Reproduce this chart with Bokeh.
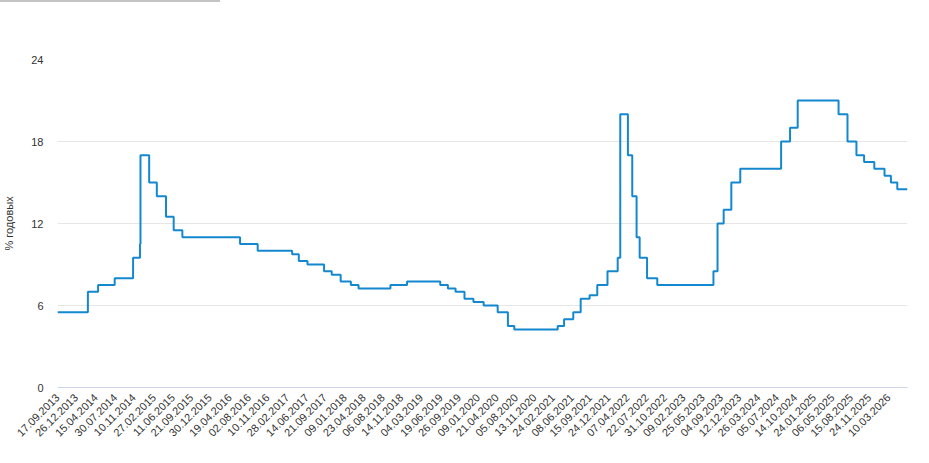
import numpy as np
from bokeh.plotting import figure
from bokeh.models import FixedTicker, Range1d, Div
from bokeh.layouts import column
from bokeh.embed import file_html
from bokeh.resources import INLINE

# Key rate change dates (effective) and values, % per year
change_dates = [
    "2013-09-17", "2014-03-03", "2014-04-28", "2014-07-28", "2014-11-05", "2014-12-12",
    "2014-12-16", "2015-02-02", "2015-03-16", "2015-05-05", "2015-06-16", "2015-08-03",
    "2016-06-14", "2016-09-19", "2017-03-27", "2017-05-02", "2017-06-19", "2017-09-18",
    "2017-10-30", "2017-12-18", "2018-02-12", "2018-03-26", "2018-09-17", "2018-12-17",
    "2019-06-17", "2019-07-29", "2019-09-09", "2019-10-28", "2019-12-16", "2020-02-10",
    "2020-04-27", "2020-06-22", "2020-07-27", "2021-03-22", "2021-04-26", "2021-06-15",
    "2021-07-26", "2021-09-13", "2021-10-25", "2021-12-20", "2022-02-14", "2022-02-28",
    "2022-04-11", "2022-05-04", "2022-05-27", "2022-06-14", "2022-07-25", "2022-09-19",
    "2023-07-24", "2023-08-15", "2023-09-18", "2023-10-30", "2023-12-18", "2024-07-29",
    "2024-09-16", "2024-10-28", "2025-06-09", "2025-07-28", "2025-09-15", "2025-10-27",
    "2025-12-22", "2026-02-16", "2026-03-23", "2026-04-27", "2026-06-22",
]
rates = [
    5.5, 7.0, 7.5, 8.0, 9.5, 10.5,
    17.0, 15.0, 14.0, 12.5, 11.5, 11.0,
    10.5, 10.0, 9.75, 9.25, 9.0, 8.5,
    8.25, 7.75, 7.5, 7.25, 7.5, 7.75,
    7.5, 7.25, 7.0, 6.5, 6.25, 6.0,
    5.5, 4.5, 4.25, 4.5, 5.0, 5.5,
    6.5, 6.75, 7.5, 8.5, 9.5, 20.0,
    17.0, 14.0, 11.0, 9.5, 8.0, 7.5,
    8.5, 12.0, 13.0, 15.0, 16.0, 18.0,
    19.0, 21.0, 20.0, 18.0, 17.0, 16.5,
    16.0, 15.5, 15.0, 14.5, 14.5,
]

tick_labels = [
    "17.09.2013", "26.12.2013", "15.04.2014", "30.07.2014", "10.11.2014", "27.02.2015",
    "11.06.2015", "21.09.2015", "30.12.2015", "19.04.2016", "02.08.2016", "10.11.2016",
    "28.02.2017", "14.06.2017", "21.09.2017", "09.01.2018", "23.04.2018", "06.08.2018",
    "14.11.2018", "04.03.2019", "19.06.2019", "26.09.2019", "09.01.2020", "21.04.2020",
    "05.08.2020", "13.11.2020", "24.02.2021", "08.06.2021", "15.09.2021", "24.12.2021",
    "07.04.2022", "22.07.2022", "31.10.2022", "09.02.2023", "25.05.2023", "04.09.2023",
    "12.12.2023", "26.03.2024", "05.07.2024", "14.10.2024", "24.01.2025", "06.05.2025",
    "15.08.2025", "24.11.2025", "10.03.2026",
]
y_ticks = [0, 6, 12, 18, 24]

start = np.datetime64(change_dates[0])

def bidx(d):
    return int(np.busday_count(start, np.datetime64(d)))

xs = [bidx(d) for d in change_dates]
tick_iso = ["%s-%s-%s" % (t[6:], t[3:5], t[0:2]) for t in tick_labels]
tick_pos = [bidx(d) for d in tick_iso]

p = figure(width=929, height=461, output_backend="svg", toolbar_location=None,
           x_range=Range1d(0, xs[-1]), y_range=Range1d(0, 24),
           min_border_left=57, min_border_right=22, min_border_top=57,
           min_border_bottom=76)
p.outline_line_color = None
p.background_fill_color = "white"
p.border_fill_color = "white"

p.step(xs, rates, mode="after", line_color="#1388cf", line_width=2)

# Y axis
p.yaxis.ticker = FixedTicker(ticks=y_ticks)
p.yaxis.axis_line_color = None
p.yaxis.major_tick_line_color = None
p.yaxis.minor_tick_line_color = None
p.yaxis.major_tick_in = 0
p.yaxis.major_tick_out = 0
p.yaxis.minor_tick_in = 0
p.yaxis.minor_tick_out = 0
p.yaxis.major_label_standoff = 14
p.yaxis.major_label_text_font = "Liberation Sans"
p.yaxis.major_label_text_font_size = "11px"
p.yaxis.major_label_text_color = "#333333"
p.yaxis.axis_label = "% годовых"
p.yaxis.axis_label_text_font = "Liberation Sans"
p.yaxis.axis_label_text_font_size = "11px"
p.yaxis.axis_label_text_font_style = "normal"
p.yaxis.axis_label_text_color = "#333333"
p.yaxis.axis_label_standoff = 13

# X axis
p.xaxis.ticker = FixedTicker(ticks=tick_pos)
p.xaxis.major_label_overrides = {pos: lab for pos, lab in zip(tick_pos, tick_labels)}
p.xaxis.major_label_orientation = np.pi / 4
p.xaxis.axis_line_color = "#ccd6eb"
p.xaxis.major_tick_line_color = None
p.xaxis.minor_tick_line_color = None
p.xaxis.major_tick_in = 0
p.xaxis.major_tick_out = 0
p.xaxis.minor_tick_in = 0
p.xaxis.minor_tick_out = 0
p.xaxis.major_label_standoff = 8
p.xaxis.major_label_text_font = "Liberation Sans"
p.xaxis.major_label_text_font_size = "11px"
p.xaxis.major_label_text_color = "#333333"

p.xgrid.grid_line_color = None
p.ygrid.ticker = FixedTicker(ticks=y_ticks)
p.ygrid.grid_line_color = "#e6e6e6"

# thin grey bar above the chart, at the top-left of the page
bar = Div(text="", width=220, height=2, margin=0,
          styles={"background-color": "#c4c4c4"})

layout = column(bar, p, spacing=0, margin=0)
open("out.html", "w").write(file_html(layout, INLINE))
